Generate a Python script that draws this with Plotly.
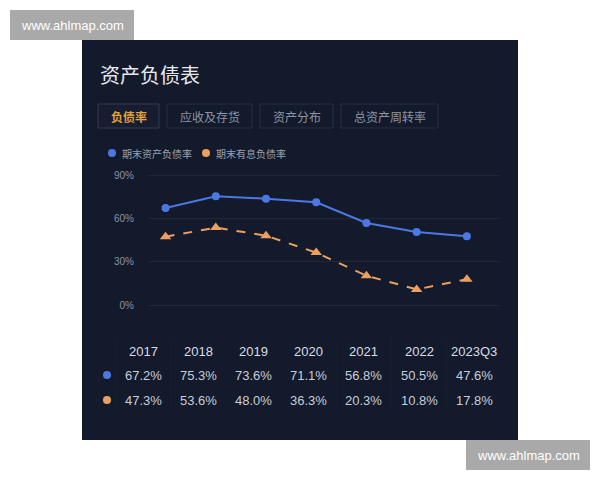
import plotly.graph_objects as go

# ---------------- data ----------------
years = ["2017", "2018", "2019", "2020", "2021", "2022", "2023Q3"]
total_debt_ratio = [67.2, 75.3, 73.6, 71.1, 56.8, 50.5, 47.6]
interest_debt_ratio = [47.3, 53.6, 48.0, 36.3, 20.3, 10.8, 17.8]
series_names = ["期末资产负债率", "期末有息负债率"]
tabs = ["负债率", "应收及存货", "资产分布", "总资产周转率"]
y_ticks = [0, 30, 60, 90]
title_text = "资产负债表"
watermark = "www.ahlmap.com"

# ---------------- styles ----------------
W, H = 600, 480
BG = "#131a2b"
BLUE = "#4d78e3"
ORANGE = "#eba062"
GRID = "rgba(255,255,255,0.06)"
CJK = "Noto Sans CJK SC, Noto Sans, sans-serif"
NUM = "Liberation Sans, Arial, sans-serif"


def px(x):
    return x / W


def py(y):
    return 1 - y / H


fig = go.Figure()
fig.add_trace(go.Scatter(
    x=years, y=total_debt_ratio, mode="lines+markers", name=series_names[0],
    line=dict(color=BLUE, width=2), marker=dict(color=BLUE, size=8, symbol="circle"),
    cliponaxis=False, showlegend=False,
))
fig.add_trace(go.Scatter(
    x=years, y=interest_debt_ratio, mode="lines+markers", name=series_names[1],
    line=dict(color=ORANGE, width=2, dash="dash"),
    marker=dict(color=ORANGE, size=10, symbol="triangle-up"),
    cliponaxis=False, showlegend=False,
))

shapes = []
annotations = []

# dark panel
shapes.append(dict(type="rect", xref="paper", yref="paper", x0=px(82), x1=px(518),
                   y0=py(440), y1=py(40), fillcolor=BG, line=dict(width=0), layer="below"))

# watermarks
for (x0, y0) in [(10, 10), (466, 440)]:
    shapes.append(dict(type="rect", xref="paper", yref="paper", x0=px(x0), x1=px(x0 + 124),
                       y0=py(y0 + 30), y1=py(y0), fillcolor="#a9a9a9", line=dict(width=0)))
    annotations.append(dict(text=watermark, xref="paper", yref="paper", x=px(x0 + 62), y=py(y0 + 15),
                            showarrow=False, xanchor="center", yanchor="middle",
                            font=dict(family="Liberation Sans, Arial, sans-serif", size=13, color="white")))

# title
annotations.append(dict(text=title_text, xref="paper", yref="paper", x=px(98), y=py(74),
                        showarrow=False, xanchor="left", yanchor="middle",
                        font=dict(family=CJK, size=20, color="#e8eaf0")))

# tabs
tx = 98
for i, t in enumerate(tabs):
    w = 12 * len(t) + 25
    active = i == 0
    shapes.append(dict(type="rect", xref="paper", yref="paper", x0=px(tx), x1=px(tx + w),
                       y0=py(128), y1=py(104),
                       fillcolor="#161d30" if active else "rgba(0,0,0,0)",
                       line=dict(color="#353c4c" if active else "#272e40", width=1)))
    label = f"<b>{t}</b>" if active else t
    annotations.append(dict(text=label, xref="paper", yref="paper", x=px(tx + w / 2), y=py(116),
                            showarrow=False, xanchor="center", yanchor="middle",
                            font=dict(family=CJK, size=12, color="#e3a33f" if active else "#8c94a6")))
    tx += w + 8

# legend (custom)
lx = 112
for name, col in zip(series_names, [BLUE, ORANGE]):
    shapes.append(dict(type="circle", xref="paper", yref="paper", x0=px(lx - 4), x1=px(lx + 4),
                       y0=py(157), y1=py(149), fillcolor=col, line=dict(width=0)))
    annotations.append(dict(text=name, xref="paper", yref="paper", x=px(lx + 8), y=py(153),
                            showarrow=False, xanchor="left", yanchor="middle",
                            font=dict(family=CJK, size=10, color="#9aa2b2")))
    lx += 94

# table
col0 = 143
dx = 55.2
rows_y = [351, 375, 400]
for i, yr in enumerate(years):
    cx = col0 + dx * i
    annotations.append(dict(text=yr, xref="paper", yref="paper", x=px(cx), y=py(rows_y[0]),
                            showarrow=False, xanchor="center", yanchor="middle",
                            font=dict(family=NUM, size=13, color="#dadde6")))
    for vals, ry in [(total_debt_ratio, rows_y[1]), (interest_debt_ratio, rows_y[2])]:
        annotations.append(dict(text=f"{vals[i]:.1f}%", xref="paper", yref="paper", x=px(cx), y=py(ry),
                                showarrow=False, xanchor="center", yanchor="middle",
                                font=dict(family=NUM, size=13, color="#c9cdd8")))
for col, ry in [(BLUE, rows_y[1]), (ORANGE, rows_y[2])]:
    shapes.append(dict(type="circle", xref="paper", yref="paper", x0=px(103), x1=px(111),
                       y0=py(ry + 4), y1=py(ry - 4), fillcolor=col, line=dict(width=0)))

# faint table grid
TL = "rgba(255,255,255,0.02)"
for yy in [338, 363, 388, 412]:
    shapes.append(dict(type="line", xref="paper", yref="paper", x0=px(99), x1=px(502),
                       y0=py(yy), y1=py(yy), line=dict(color=TL, width=1)))
for i in range(len(years)):
    xx = col0 + dx * (i - 0.5)
    shapes.append(dict(type="line", xref="paper", yref="paper", x0=px(xx), x1=px(xx),
                       y0=py(412), y1=py(338), line=dict(color=TL, width=1)))

ppu = (305 - 175) / 90.0
fig.update_layout(
    width=W, height=H,
    margin=dict(l=0, r=0, t=0, b=0),
    paper_bgcolor="white",
    plot_bgcolor="rgba(0,0,0,0)",
    showlegend=False,
    shapes=shapes,
    annotations=annotations,
    xaxis=dict(
        domain=[px(149), px(499)],
        type="category",
        range=[-0.33, 6.64],
        showgrid=False, zeroline=False, showline=False,
        showticklabels=False, ticks="",
    ),
    yaxis=dict(
        domain=[py(315), py(165)],
        range=[-10 / ppu, 90 + 10 / ppu],
        tickvals=y_ticks,
        ticktext=[f"{v}%" for v in y_ticks],
        showgrid=True, gridcolor=GRID, gridwidth=1,
        zeroline=False, showline=False, ticks="",
        ticklabelstandoff=14,
        tickfont=dict(family=NUM, size=10, color="#8b93a5"),
    ),
)

fig.write_html("out.html")
